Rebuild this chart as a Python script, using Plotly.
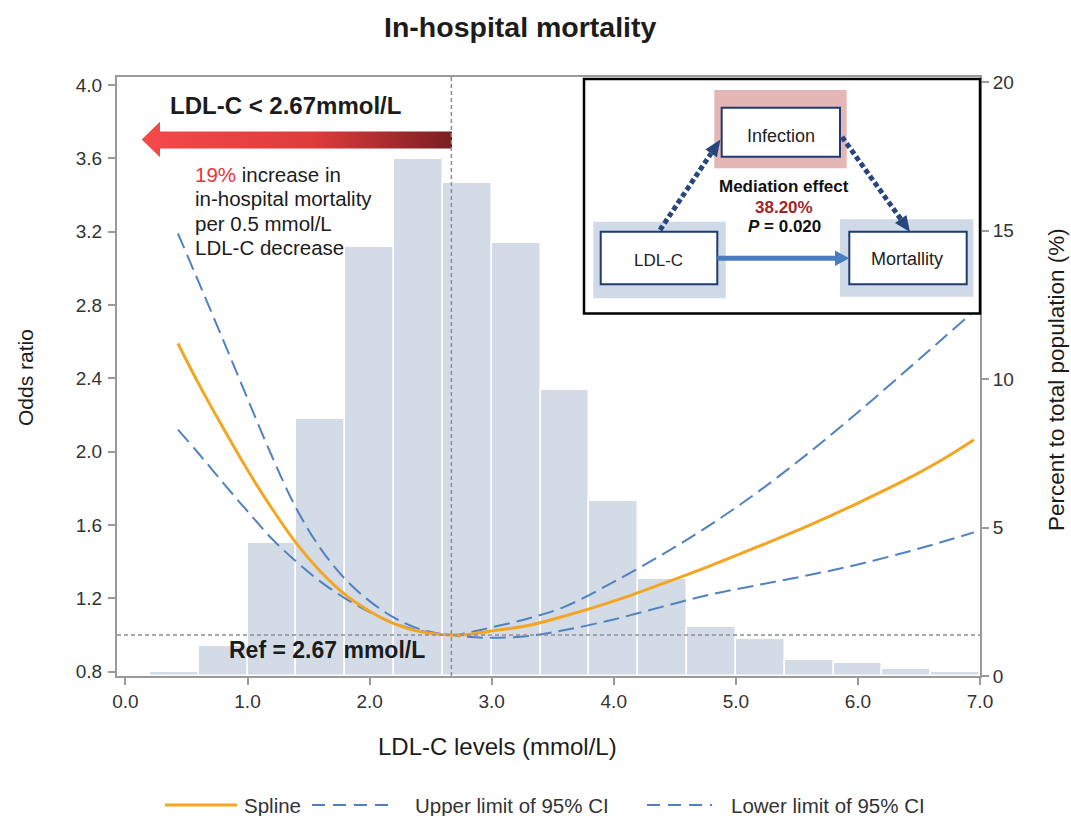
import plotly.graph_objects as go

# ---------------- data ----------------
BIN_CENTERS = [0.4, 0.8, 1.2, 1.6, 2.0, 2.4, 2.8, 3.2, 3.6, 4.0, 4.4, 4.8, 5.2, 5.6, 6.0, 6.4, 6.8]
BIN_WIDTH = 0.4
PERCENT = [0.12, 1.02, 4.47, 8.64, 14.45, 17.4, 16.6, 14.57, 9.63, 5.9, 3.26, 1.66, 1.26, 0.54, 0.43, 0.25, 0.15]

CURVE_X = [0.43, 0.6, 0.8, 1.0, 1.2, 1.4, 1.6, 1.8, 2.0, 2.2, 2.4, 2.67, 2.8, 3.0, 3.3, 3.6,
           4.0, 4.4, 4.8, 5.2, 5.6, 6.0, 6.4, 6.7, 6.95]
SPLINE_OR = [2.59, 2.37, 2.13, 1.90, 1.69, 1.50, 1.345, 1.22, 1.13, 1.062, 1.02, 1.0, 1.003, 1.022,
             1.052, 1.104, 1.185, 1.28, 1.38, 1.487, 1.598, 1.72, 1.85, 1.96, 2.065]
UPPER_OR = [3.19, 2.925, 2.61, 2.29, 1.975, 1.69, 1.47, 1.305, 1.185, 1.095, 1.035, 1.0, 1.012, 1.042,
            1.09, 1.155, 1.29, 1.44, 1.605, 1.79, 1.995, 2.215, 2.445, 2.62, 2.765]
LOWER_OR = [2.12, 1.99, 1.83, 1.675, 1.525, 1.40, 1.29, 1.20, 1.125, 1.065, 1.025, 1.0, 0.99, 0.985,
            0.995, 1.027, 1.085, 1.155, 1.222, 1.275, 1.327, 1.385, 1.453, 1.51, 1.56]

REF_LDL = 2.67
REF_OR = 1.0

X_TICKS = [0, 1, 2, 3, 4, 5, 6, 7]
X_TICK_TEXT = ["0.0", "1.0", "2.0", "3.0", "4.0", "5.0", "6.0", "7.0"]
OR_TICKS = [0.8, 1.2, 1.6, 2.0, 2.4, 2.8, 3.2, 3.6, 4.0]
OR_TICK_TEXT = ["0.8", "1.2", "1.6", "2.0", "2.4", "2.8", "3.2", "3.6", "4.0"]
PCT_TICKS = [0, 5, 10, 15, 20]

# ---------------- layout helpers ----------------
W, H = 1071, 816
ML, MR, MT, MB = 117, 91, 77, 140
PW, PH = W - ML - MR, H - MT - MB


def X(px):
    return (px - ML) / PW


def Y(py):
    return (H - MB - py) / PH


FONT = "Liberation Sans, Arial, Helvetica, sans-serif"
TXT = "#1c1c1c"
AXC = "#9a9a9a"
ORANGE = "#f4a622"
BLUE = "#5182c0"
NAVY = "#27467c"

X_RANGE = [-0.069, 7.0]
OR_RANGE = [0.7765, 4.0436]
PCT_RANGE = [0, 20.17]

fig = go.Figure()

# histogram (primary y = percent, right side)
fig.add_trace(go.Bar(
    x=BIN_CENTERS, y=PERCENT, width=BIN_WIDTH,
    marker=dict(color="#d3dbe7", line=dict(color="white", width=1.5)),
    yaxis="y", showlegend=False, hoverinfo="skip"))

# curves (overlay y2 = odds ratio, left side)
fig.add_trace(go.Scatter(x=CURVE_X, y=UPPER_OR, mode="lines", yaxis="y2",
                         line=dict(color=BLUE, width=2, dash="16px,7px", shape="spline"),
                         name="Upper limit of 95% CI", showlegend=False))
fig.add_trace(go.Scatter(x=CURVE_X, y=LOWER_OR, mode="lines", yaxis="y2",
                         line=dict(color=BLUE, width=2, dash="16px,7px", shape="spline"),
                         name="Lower limit of 95% CI", showlegend=False))
fig.add_trace(go.Scatter(x=CURVE_X, y=SPLINE_OR, mode="lines", yaxis="y2",
                         line=dict(color=ORANGE, width=3, shape="spline"),
                         name="Spline", showlegend=False))


# gradient arrow "LDL-C < 2.67" (decoration, positioned in data space)
def dx(px):
    return X_RANGE[0] + (px - ML) / PW * (X_RANGE[1] - X_RANGE[0])


def dy(py):
    return OR_RANGE[0] + (H - MB - py) / PH * (OR_RANGE[1] - OR_RANGE[0])


arrow_px = [(141.7, 139.5), (160, 121.7), (160, 131.5), (452, 131.5), (452, 148.5),
            (160, 148.5), (160, 157.3), (141.7, 139.5)]
fig.add_trace(go.Scatter(
    x=[dx(p[0]) for p in arrow_px], y=[dy(p[1]) for p in arrow_px],
    mode="lines", fill="toself", yaxis="y2", line=dict(width=0, color="rgba(0,0,0,0)"),
    fillgradient=dict(type="horizontal",
                      colorscale=[[0, "#f5494a"], [0.55, "#df3b3b"], [1, "#7a1f23"]]),
    showlegend=False, hoverinfo="skip"))

shapes = []
# reference lines
shapes.append(dict(type="line", xref="x", yref="paper", x0=REF_LDL, x1=REF_LDL, y0=0, y1=1,
                   line=dict(color="#8f8f8f", width=1.5, dash="4px,3px"), layer="above"))
shapes.append(dict(type="line", xref="paper", yref="y2", x0=0, x1=1, y0=REF_OR, y1=REF_OR,
                   line=dict(color="#8f8f8f", width=1.5, dash="4px,3px"), layer="above"))


def rect(x0, y0, x1, y1, fill, line_color=None, lw=0):
    return dict(type="rect", xref="paper", yref="paper", x0=X(x0), x1=X(x1), y0=Y(y1), y1=Y(y0),
                fillcolor=fill, layer="above", line=dict(width=lw, color=line_color or fill))


# inset mediation diagram
shapes.append(rect(584, 79, 980, 313.5, "white", "black", 2.5))
shapes.append(rect(714.3, 90, 846.7, 168.3, "#e4b6b6"))
shapes.append(rect(721.7, 107.7, 840, 156.7, "white", "#1f3b70", 2))
shapes.append(rect(593.3, 221.7, 725.7, 298.3, "#d0d9e7"))
shapes.append(rect(600.7, 231.7, 717.3, 284.3, "white", "#1f3b70", 2))
shapes.append(rect(840, 219.3, 973.3, 296.7, "#d0d9e7"))
shapes.append(rect(849.3, 231.7, 966.7, 284.3, "white", "#1f3b70", 2))


def pline(x0, y0, x1, y1, color, width, dash=None):
    ln = dict(color=color, width=width)
    if dash:
        ln["dash"] = dash
    return dict(type="line", xref="paper", yref="paper", x0=X(x0), y0=Y(y0), x1=X(x1), y1=Y(y1),
                line=ln, layer="above")


def tri(pts, color):
    path = "M " + " L ".join(f"{X(a):.5f},{Y(b):.5f}" for a, b in pts) + " Z"
    return dict(type="path", xref="paper", yref="paper", path=path, fillcolor=color,
                line=dict(width=0, color=color), layer="above")


# solid arrow LDL-C -> Mortallity
shapes.append(pline(717.3, 258.3, 837, 258.3, "#4a7dbf", 5))
shapes.append(tri([(835, 250.5), (849.3, 258.3), (835, 266.1)], "#4a7dbf"))
# dotted arrows via Infection
shapes.append(pline(660, 230, 711.1, 153.3, NAVY, 5, "5px,3px"))
shapes.append(tri([(716.9, 157.2), (720.5, 139.5), (705.3, 149.4)], NAVY))
shapes.append(pline(842, 137, 900.7, 219.0, NAVY, 5, "5px,3px"))
shapes.append(tri([(906.4, 214.9), (910, 232), (895.0, 223.1)], NAVY))

# manual legend
LEG_Y = 805
shapes.append(pline(165, LEG_Y, 237, LEG_Y, ORANGE, 3))
shapes.append(pline(312, LEG_Y, 390, LEG_Y, BLUE, 2, "13px,8px"))
shapes.append(pline(647, LEG_Y, 712, LEG_Y, BLUE, 2, "13px,8px"))

ann = []


def text(px, py, s, size, anchor="left", color=TXT, angle=0, vanchor="middle"):
    ann.append(dict(x=X(px), y=Y(py), xref="paper", yref="paper", text=s, showarrow=False,
                    xanchor=anchor, yanchor=vanchor, textangle=angle,
                    font=dict(family=FONT, size=size, color=color)))


text(520, 27, "<b>In-hospital mortality</b>", 28.5, "center")
text(497.5, 746, "LDL-C levels (mmol/L)", 24, "center")
text(25, 378, "Odds ratio", 21, "center", angle=-90)
text(1056, 380, "Percent to total population (%)", 22.5, "center", angle=-90)

text(168, 105, "<b>LDL-C &lt; 2.67mmol/L</b>", 24)
text(193, 174, "<span style='color:#e8363a'>19%</span> increase in", 20.5)
text(193, 198.5, "in-hospital mortality", 20.5)
text(193, 223, "per 0.5 mmol/L", 20.5)
text(193, 247.5, "LDL-C decrease", 20.5)
text(227.3, 650, "<b>Ref = 2.67 mmol/L</b>", 23)

# inset texts
text(781, 135.7, "Infection", 18, "center", color="#222")
text(658, 260, "LDL-C", 17, "center", color="#222")
text(907, 259.3, "Mortallity", 18, "center", color="#222")
text(784, 186, "<b>Mediation effect</b>", 17, "center", color="#111")
text(784, 207.3, "<b>38.20%</b>", 17, "center", color="#a3252b")
text(784, 226.7, "<b><i>P</i> = 0.020</b>", 17, "center", color="#111")

# legend texts
text(242, LEG_Y, "Spline", 20.5, color="#333")
text(413, LEG_Y, "Upper limit of 95% CI", 20.5, color="#333")
text(729, LEG_Y, "Lower limit of 95% CI", 20.5, color="#333")

tickfont = dict(family=FONT, size=19, color="#333")
fig.update_layout(
    width=W, height=H,
    margin=dict(l=ML, r=MR, t=MT, b=MB),
    paper_bgcolor="white", plot_bgcolor="white",
    showlegend=False, bargap=0,
    xaxis=dict(range=X_RANGE, tickvals=X_TICKS, ticktext=X_TICK_TEXT, ticks="outside",
               ticklen=7, tickwidth=1.5, tickcolor=AXC, showline=True, linecolor=AXC,
               linewidth=2, mirror=True, showgrid=False, zeroline=False, tickfont=tickfont,
               ticklabelstandoff=0),
    yaxis=dict(range=PCT_RANGE, tickvals=PCT_TICKS, side="right", ticks="outside",
               ticklen=7, tickwidth=1.5, tickcolor=AXC, showline=True, linecolor=AXC,
               linewidth=2, showgrid=False, zeroline=False, tickfont=tickfont),
    yaxis2=dict(range=OR_RANGE, tickvals=OR_TICKS, ticktext=OR_TICK_TEXT, side="left",
                overlaying="y", ticks="outside", ticklen=7, tickwidth=1.5, tickcolor=AXC,
                showline=True, linecolor=AXC, linewidth=2, showgrid=False, zeroline=False,
                tickfont=tickfont, ticklabelstandoff=2),
    shapes=shapes, annotations=ann,
)

fig.write_html(
    "out.html",
    config={"displayModeBar": False},
    post_script="document.body.style.margin='0';document.body.style.overflow='hidden';",
)
